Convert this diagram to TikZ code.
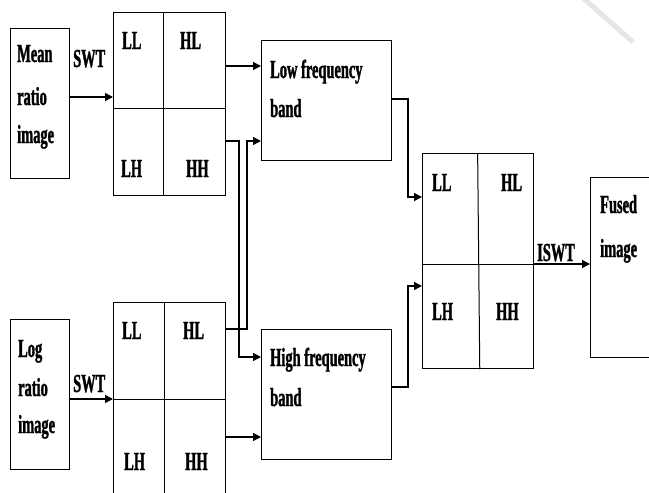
\documentclass[tikz,border=0pt]{standalone}
\usepackage{fontspec}
\setmainfont{Liberation Serif}[FakeStretch=0.555,FakeBold=1.2]
\usetikzlibrary{arrows.meta,calc}
\begin{document}
\begin{tikzpicture}[x=1pt,y=-1pt,
  box/.style={draw,line width=1.4pt,anchor=north west,inner sep=0pt,rectangle},
  divline/.style={line width=1pt},
  lbl/.style={anchor=base west,inner sep=0pt,font=\fontsize{26}{30}\selectfont\bfseries},
  conn/.style={line width=1.3pt,-{Triangle[length=8pt,width=8pt]}},
  wire/.style={line width=1.3pt}]
\useasboundingbox (0,0) rectangle (649,493);
\clip (0,0) rectangle (649,493);
\fill[white] (0,0) rectangle (649,493);
% faint watermark stroke
\draw[gray!20,line width=5pt] (583,-2) -- (633,42);
% boxes
\node[box,minimum width=59pt,minimum height=150pt] (mean) at (10,28) {};
\node[box,minimum width=112pt,minimum height=183pt] (tg) at (113,12) {};
\node[box,minimum width=130pt,minimum height=120pt] (low) at (261,40) {};
\node[box,minimum width=59pt,minimum height=150pt] (log) at (10,319) {};
\node[box,minimum width=112pt,minimum height=193pt] (bg) at (113,302) {};
\node[box,minimum width=130pt,minimum height=130pt] (high) at (261,329) {};
\node[box,minimum width=111pt,minimum height=215pt] (fg) at (422,153) {};
\node[box,minimum width=80pt,minimum height=180pt] (fused) at (590,177) {};
% grid dividers
\draw[divline] ($(tg.north west)!0.446!(tg.north east)$) -- ($(tg.south west)!0.446!(tg.south east)$);
\draw[divline] ($(tg.north west)!0.525!(tg.south west)$) -- ($(tg.north east)!0.525!(tg.south east)$);
\draw[divline] ($(bg.north west)!0.455!(bg.north east)$) -- ($(bg.south west)!0.455!(bg.south east)$);
\draw[divline] ($(bg.north west)!0.503!(bg.south west)$) -- ($(bg.north east)!0.503!(bg.south east)$);
\draw[divline] ($(fg.north west)!0.495!(fg.north east)$) -- ($(fg.south west)!0.514!(fg.south east)$);
\draw[divline] ($(fg.north west)!0.516!(fg.south west)$) -- ($(fg.north east)!0.516!(fg.south east)$);
% texts
\node[lbl] (m1) at (17,62) {Mean};
\node[lbl] (m2) at (17,105) {ratio};
\node[lbl] (m3) at (17,143) {image};
\node[lbl] (s1) at (73,67) {SWT};
\node[lbl] (t1) at (122,49) {LL};
\node[lbl] (t2) at (180,49) {HL};
\node[lbl] (t3) at (121,177) {LH};
\node[lbl] (t4) at (186,177) {HH};
\node[lbl] (l1) at (270,78) {Low frequency};
\node[lbl] (l2) at (270,117) {band};
\node[lbl] (g1) at (18,357) {Log};
\node[lbl] (g2) at (18,396) {ratio};
\node[lbl] (g3) at (18,433) {image};
\node[lbl] (s2) at (73,392) {SWT};
\node[lbl] (b1) at (122,339) {LL};
\node[lbl] (b2) at (183,339) {HL};
\node[lbl] (b3) at (124,470) {LH};
\node[lbl] (b4) at (185,470) {HH};
\node[lbl] (h1) at (270,366) {High frequency};
\node[lbl] (h2) at (270,406) {band};
\node[lbl] (f1) at (432,191) {LL};
\node[lbl] (f2) at (501,191) {HL};
\node[lbl] (f3) at (432,320) {LH};
\node[lbl] (f4) at (496,320) {HH};
\node[lbl] (is) at (537,261) {ISWT};
\node[lbl] (u1) at (600,213) {Fused};
\node[lbl] (u2) at (600,257) {image};
% connectors
\draw[conn] (mean.east |- 0,97) -- (tg.west |- 0,97);
\draw[conn] (log.east |- 0,399) -- (bg.west |- 0,399);
\draw[conn] (tg.east |- 0,66) -- (low.west |- 0,66);
\draw[conn] (tg.east |- 0,141) -- (239,141) -- (239,357) -- (high.west |- 0,357);
\draw[conn] (bg.east |- 0,329) -- (247,329) -- (247,141) -- (low.west |- 0,141);
\draw[conn] (bg.east |- 0,437) -- (high.west |- 0,437);
\draw[conn] (low.east |- 0,99) -- (408,99) -- (408,197) -- (fg.west |- 0,197);
\draw[conn] (high.east |- 0,387) -- (408,387) -- (408,286) -- (fg.west |- 0,286);
\draw[conn] (fg.east |- 0,264) -- (fused.west |- 0,264);
\end{tikzpicture}
\end{document}
